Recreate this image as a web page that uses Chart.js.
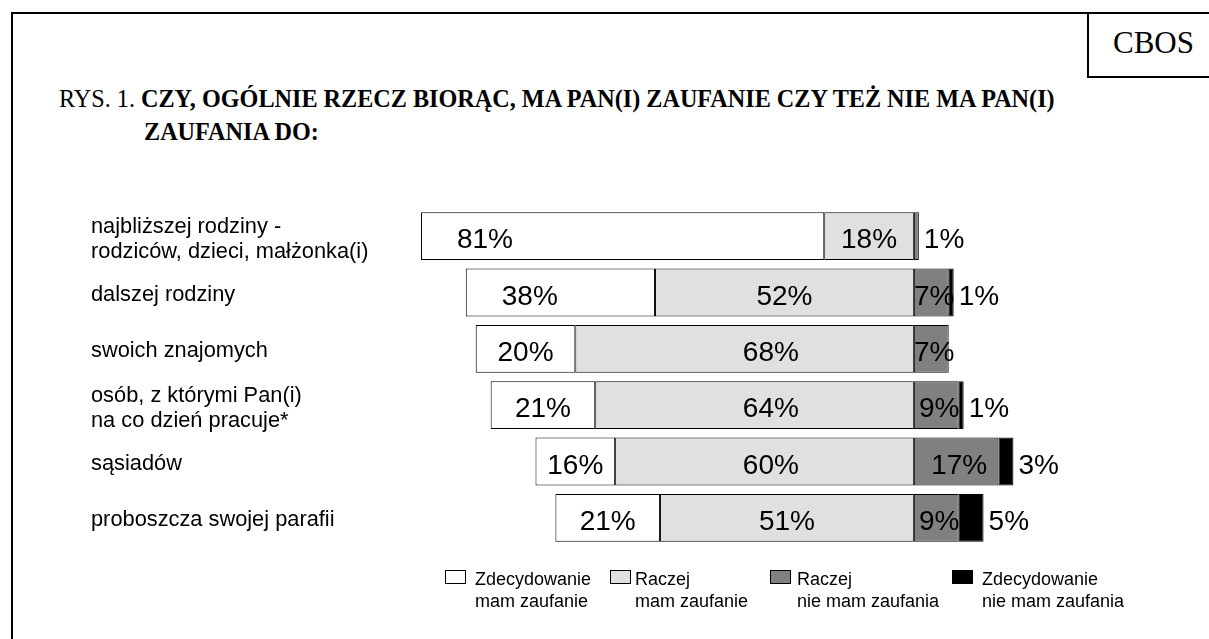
<!DOCTYPE html>
<html>
<head>
<meta charset="utf-8">
<script src="https://cdn.jsdelivr.net/npm/chart.js@4.4.0/dist/chart.umd.min.js"></script>
<style>
    html, body { margin: 0; padding: 0; width: 1209px; height: 639px; overflow: hidden; background: #fff; }
    #frame { position: absolute; left: 11px; top: 12px; width: 1300px; height: 700px; border: 2px solid #000; }
    #cbos { position: absolute; left: 1087px; top: 12px; width: 200px; height: 64px; border: 2px solid #000; border-top: none; }
    #cbos-text { position: absolute; left: 1113px; top: 27px; font: 31px/31px "Liberation Serif", "Times New Roman", serif; }
    #title { position: absolute; left: 59px; top: 82px; font: 24.2px/33px "Liberation Serif", "Times New Roman", serif; white-space: nowrap; }
    #title b { font-weight: bold; }
    #chart { position: absolute; left: 0; top: 0; }
    .lg-box { position: absolute; top: 570px; width: 19px; height: 12px; border: 1px solid #000; }
    .lg-text { position: absolute; top: 569px; font: 18px/21.6px "Liberation Sans", Arial, sans-serif; white-space: nowrap; }
</style>
</head>
<body>
<div id="frame"></div>
<div id="cbos"></div>
<div id="cbos-text">CBOS</div>
<div id="title">RYS. 1. <b>CZY, OGÓLNIE RZECZ BIORĄC, MA PAN(I) ZAUFANIE CZY TEŻ NIE MA PAN(I)</b><br><b style="margin-left:85px">ZAUFANIA DO:</b></div>
<canvas id="chart" width="1209" height="639"></canvas>
<div id="legend"></div>

<script>
// categories (rows, top to bottom)
const categories = [
    ["najbliższej rodziny -", "rodziców, dzieci, małżonka(i)"],
    ["dalszej rodziny"],
    ["swoich znajomych"],
    ["osób, z którymi Pan(i)", "na co dzień pracuje*"],
    ["sąsiadów"],
    ["proboszcza swojej parafii"]
];

// answers in %
const strongTrust = [81, 38, 20, 21, 16, 21];
const ratherTrust = [18, 52, 68, 64, 60, 51];
const ratherNot = [1, 7, 7, 9, 17, 9];
const strongNot = [0, 1, 0, 1, 3, 5];

const seriesNames = [
    ["Zdecydowanie", "mam zaufanie"],
    ["Raczej", "mam zaufanie"],
    ["Raczej", "nie mam zaufania"],
    ["Zdecydowanie", "nie mam zaufania"]
];

const colors = ['#ffffff', '#e0e0e0', '#808080', '#000000'];
const legendX = [[445, 475], [610, 635], [770, 797], [952, 982]];

const sansFont = '"Liberation Sans", Arial, sans-serif';

// draws row names and the % labels on the bars
const labelPlugin = {
    id: 'barLabels',
    afterDatasetsDraw(chart) {
        const ctx = chart.ctx;
        const yScale = chart.scales.y;
        ctx.save();
        ctx.fillStyle = '#000';

        // row names
        ctx.font = '21.8px ' + sansFont;
        ctx.textAlign = 'left';
        ctx.textBaseline = 'alphabetic';
        categories.forEach((lines, i) => {
            const yc = yScale.getPixelForValue(i);
            if (lines.length === 1) {
                ctx.fillText(lines[0], 91, yc + 8.5);
            } else {
                lines.forEach((l, k) => ctx.fillText(l, 91, yc - 3.5 + k * 25.5));
            }
        });

        // value labels
        ctx.font = '28px ' + sansFont;
        const metaRT = chart.getDatasetMeta(0).data;
        const metaST = chart.getDatasetMeta(1).data;
        const metaRN = chart.getDatasetMeta(2).data;
        const metaSN = chart.getDatasetMeta(3).data;

        const box = el => ({ left: Math.min(el.x, el.base), right: Math.max(el.x, el.base), y: el.y });

        categories.forEach((_, i) => {
            const base = yScale.getPixelForValue(i) + 12;
            ctx.textAlign = 'center';

            let b = box(metaST[i]);
            ctx.fillText(strongTrust[i] + '%', b.left + Math.min((b.right - b.left) / 2, 64), base);

            b = box(metaRT[i]);
            ctx.fillText(ratherTrust[i] + '%', b.right - Math.min((b.right - b.left) / 2, 143), base);

            b = box(metaRN[i]);
            const end = strongNot[i] > 0 ? box(metaSN[i]).right : b.right;
            if (ratherNot[i] >= 6) {
                ctx.fillText(ratherNot[i] + '%', (b.left + b.right) / 2 + 3, base);
            } else if (ratherNot[i] > 0 && strongNot[i] === 0) {
                ctx.textAlign = 'left';
                ctx.fillText(ratherNot[i] + '%', end + 5, base);
            }
            if (strongNot[i] > 0) {
                ctx.textAlign = 'left';
                ctx.fillText(strongNot[i] + '%', end + 5, base);
            }
        });
        ctx.restore();
    }
};

const barStyle = (color) => ({
    backgroundColor: color,
    borderColor: '#000',
    borderWidth: 1,
    borderSkipped: false,
    categoryPercentage: 1,
    barPercentage: 0.85
});

// trust answers go left of zero: inner one first so it stacks next to the axis
new Chart(document.getElementById('chart'), {
    type: 'bar',
    data: {
        labels: categories,
        datasets: [
            { label: seriesNames[1].join(' '), data: ratherTrust.map(v => -v), ...barStyle(colors[1]) },
            { label: seriesNames[0].join(' '), data: strongTrust.map(v => -v), ...barStyle(colors[0]) },
            { label: seriesNames[2].join(' '), data: ratherNot, ...barStyle(colors[2]) },
            { label: seriesNames[3].join(' '), data: strongNot, ...barStyle(colors[3]) }
        ]
    },
    options: {
        indexAxis: 'y',
        responsive: false,
        animation: false,
        layout: { padding: { left: 416, right: 96, top: 208, bottom: 93 } },
        plugins: {
            legend: { display: false },
            tooltip: { enabled: false }
        },
        scales: {
            x: { stacked: true, min: -100, max: 40, display: false },
            y: { stacked: true, display: false }
        }
    },
    plugins: [labelPlugin]
});

// legend under the chart
const legend = document.getElementById('legend');
seriesNames.forEach((name, i) => {
    const sq = document.createElement('div');
    sq.className = 'lg-box';
    sq.style.left = legendX[i][0] + 'px';
    sq.style.background = colors[i];
    legend.appendChild(sq);
    const txt = document.createElement('div');
    txt.className = 'lg-text';
    txt.style.left = legendX[i][1] + 'px';
    txt.innerHTML = name.join('<br>');
    legend.appendChild(txt);
});
</script>
</body>
</html>
